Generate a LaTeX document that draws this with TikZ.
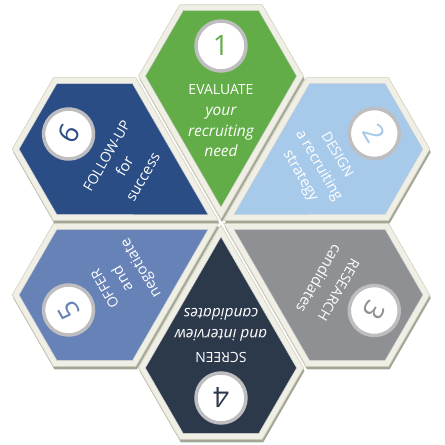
\documentclass[tikz,border=0pt]{standalone}
\usepackage{fontspec}
\setmainfont{Open Sans}
\definecolor{segA}{HTML}{62AD47}
\definecolor{segB}{HTML}{A7C9EA}
\definecolor{segC}{HTML}{8F9094}
\definecolor{segD}{HTML}{2C394B}
\definecolor{segE}{HTML}{6682B6}
\definecolor{segF}{HTML}{2B4D85}
\definecolor{rim}{HTML}{F0EFE5}
\definecolor{rimline}{HTML}{D3D0BF}
\definecolor{shadowc}{HTML}{A2A696}
\definecolor{ring}{HTML}{BEBEC1}
% one petal, pointing up from the hub; the others are rotated copies
\def\outerrim{(0,3) -- (82.5,145.9) -- (41.25,217.3) -- (-41.25,217.3) -- (-82.5,145.9) -- cycle}
\def\innerface{(0,15) -- (75.57,145.9) -- (37.79,211.3) -- (-37.79,211.3) -- (-75.57,145.9) -- cycle}
\begin{document}
\begin{tikzpicture}[x=1pt,y=1pt,
  border/.style={fill=rim, draw=rimline, line width=0.6pt, line join=miter},
  drop/.style={fill=shadowc},
  face/.style={draw=black!18, line width=0.4pt},
  badge/.style={circle, fill=white, draw=ring, line width=3.5pt, minimum size=50pt,
    inner sep=0pt, font=\fontsize{28}{28}\selectfont},
  headline/.style={anchor=base, text=white, inner sep=0pt, font=\fontsize{14}{15}\selectfont},
  sub/.style={anchor=base, text=white, inner sep=0pt, font=\fontsize{15}{16}\selectfont},
  subit/.style={anchor=base, text=white, inner sep=0pt, font=\fontsize{15.5}{16}\selectfont\itshape}]
\useasboundingbox (-221,-223) rectangle (224,222);

% drop shadows and cream rims of the six petals
\foreach \r in {0,-60,-120,-180,-240,-300}
  \fill[drop, shift={(1,-3)}, rotate=\r] \outerrim;
\foreach \r in {0,-60,-120,-180,-240,-300}
  \path[border, rotate=\r] \outerrim;

% 1
\begin{scope}[rotate=0, transform shape]
  \path[face, fill=segA] \innerface;
  \node[badge, text=segA] (n1) at (0,176) {1};
  \node[headline] (a1) at (0,128) {EVALUATE};
  \node[subit] (a2) at (0,107) {your};
  \node[subit] (a3) at (0,86) {recruiting};
  \node[subit] (a4) at (0,66) {need};
\end{scope}
% 2
\begin{scope}[rotate=-60, transform shape]
  \path[face, fill=segB] \innerface;
  \node[badge, text=segB] (n2) at (0,177) {2};
  \node[headline] (b1) at (0,130) {DESIGN};
  \node[sub] (b2) at (0,109) {a recruiting};
  \node[sub] (b3) at (0,88) {strategy};
\end{scope}
% 3
\begin{scope}[rotate=-120, transform shape]
  \path[face, fill=segC] \innerface;
  \node[badge, text=segC] (n3) at (0,177) {3};
  \node[headline] (c1) at (0,131) {RESEARCH};
  \node[sub] (c2) at (0,108) {candidates};
\end{scope}
% 4
\begin{scope}[rotate=-180, transform shape]
  \path[face, fill=segD] \innerface;
  \node[badge, text=segD] (n4) at (0,176) {4};
  \node[headline] (d1) at (0,130) {SCREEN};
  \node[subit] (d2) at (0,107) {and interview};
  \node[subit] (d3) at (0,86) {candidates};
\end{scope}
% 5
\begin{scope}[rotate=-240, transform shape]
  \path[face, fill=segE] \innerface;
  \node[badge, text=segE] (n5) at (0,176) {5};
  \node[headline] (e1) at (0,129) {OFFER};
  \node[sub] (e2) at (0,109) {and};
  \node[sub] (e3) at (0,88) {negotiate};
\end{scope}
% 6
\begin{scope}[rotate=-300, transform shape]
  \path[face, fill=segF] \innerface;
  \node[badge, text=segF] (n6) at (0,176) {6};
  \node[headline] (f1) at (0,127) {FOLLOW-UP};
  \node[sub] (f2) at (0,106) {for};
  \node[sub] (f3) at (0,85) {success};
\end{scope}
\end{tikzpicture}
\end{document}
